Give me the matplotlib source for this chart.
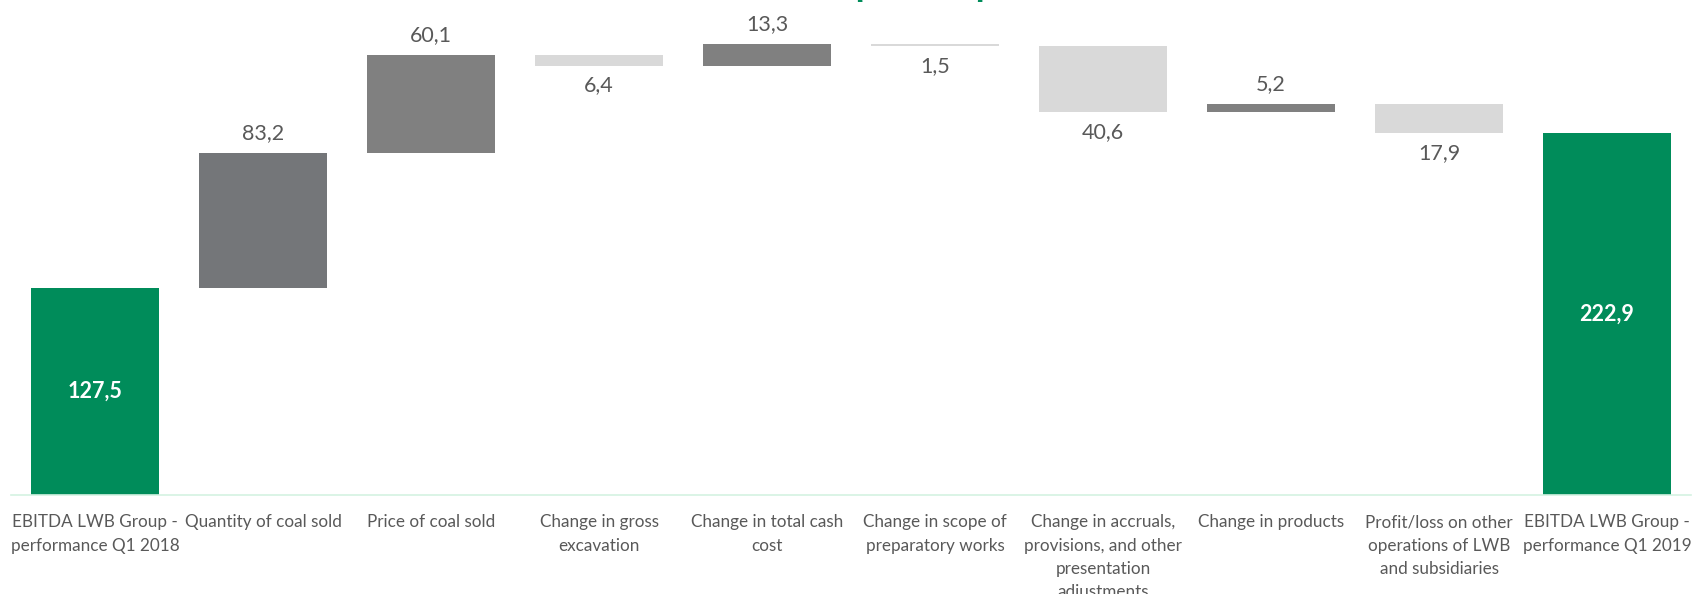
import matplotlib.pyplot as plt

categories = [
    "EBITDA LWB Group -\nperformance Q1 2018",
    "Quantity of coal sold",
    "Price of coal sold",
    "Change in gross\nexcavation",
    "Change in total cash\ncost",
    "Change in scope of\npreparatory works",
    "Change in accruals,\nprovisions, and other\npresentation\nadjustments",
    "Change in products",
    "Profit/loss on other\noperations of LWB\nand subsidiaries",
    "EBITDA LWB Group -\nperformance Q1 2019",
]
values = [127.5, 83.2, 60.1, -6.4, 13.3, -1.5, -40.6, 5.2, -17.9, 222.9]
is_total = [True, False, False, False, False, False, False, False, False, True]

GREEN = "#008c5a"
UP = "#808080"
UP_FIRST = "#747679"
DOWN = "#d9d9d9"
TXT = "#595959"
FONT = "Lato"

plt.rcParams["font.family"] = [FONT, "DejaVu Sans"]

fig = plt.figure(figsize=(16.92, 5.94), dpi=100)
ax = fig.add_axes([11 / 1692, 1 - 495 / 594, 1680 / 1692, 495 / 594])

# running level for the waterfall
level = 0.0
for i, v in enumerate(values):
    if is_total[i]:
        bottom, height, color = 0, v, GREEN
        level = v
    else:
        if v >= 0:
            bottom, height = level, v
            color = UP_FIRST if i == 1 else UP
        else:
            bottom, height = level + v, -v
            color = DOWN
        level += v
    ax.bar(i, height, bottom=bottom, width=0.76, color=color)

    label = f"{abs(v):.1f}".replace(".", ",")
    if is_total[i]:
        ax.text(i, v / 2, label, ha="center", va="center", color="white",
                fontsize=15.5, fontweight="bold")
    elif v >= 0:
        ax.annotate(label, (i, bottom + height), xytext=(0, 7), textcoords="offset points",
                    ha="center", va="bottom", color=TXT, fontsize=15.5)
    else:
        ax.annotate(label, (i, bottom), xytext=(0, -7), textcoords="offset points",
                    ha="center", va="top", color=TXT, fontsize=15.5)

ax.set_xlim(-0.5, len(values) - 0.5)
ax.set_ylim(0, 304.8)
ax.set_xticks(range(len(categories)))
ax.set_xticklabels(categories, fontsize=12.3, color=TXT, linespacing=1.55)
ax.tick_params(axis="x", length=0, pad=14)
ax.set_yticks([])
for s in ["top", "right", "left"]:
    ax.spines[s].set_visible(False)
ax.spines["bottom"].set_color("#d4f2e2")
ax.spines["bottom"].set_linewidth(1.2)

# title sits above the crop, only its lower edge shows
fig.text(920 / 1692, 1 + 2 / 594, "[PLN million]", ha="center", va="baseline",
         color=GREEN, fontsize=16, fontweight="bold")

fig.savefig("out.png", dpi=100)
